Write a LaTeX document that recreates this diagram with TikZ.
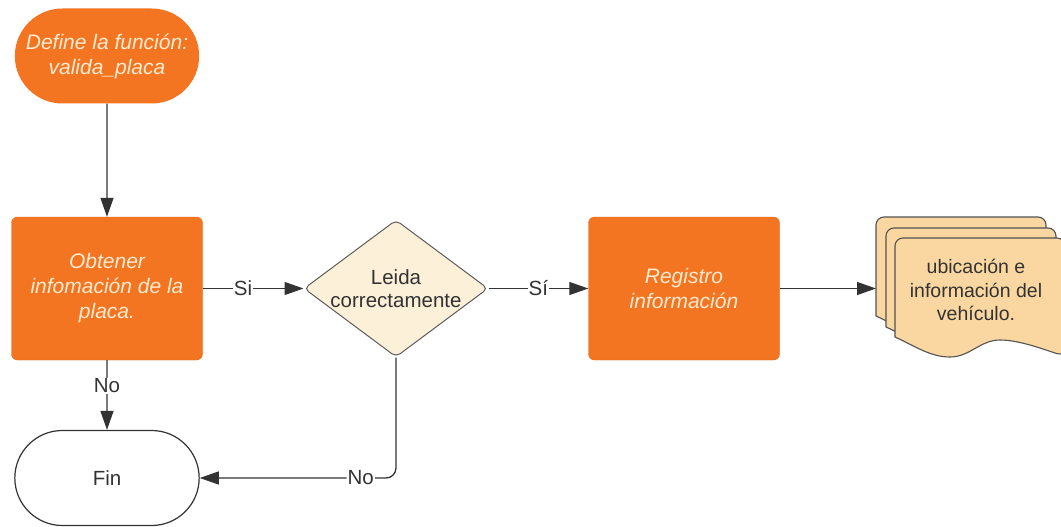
\documentclass[tikz,border=0pt]{standalone}
\usepackage{fontspec}
\setmainfont{Liberation Sans}
\usetikzlibrary{shapes.geometric,shapes.misc,arrows.meta}
\definecolor{orng}{HTML}{F47521}
\definecolor{crm}{HTML}{FFEBD2}
\definecolor{dmd}{HTML}{FCF0D9}
\definecolor{docf}{HTML}{FAD7A0}
\definecolor{ln}{HTML}{333333}
\tikzset{
  proc/.style={rectangle, rounded corners=6pt, fill=orng, draw=orng!90!black, line width=0.4pt,
    minimum width=191pt, minimum height=143pt, align=center, text=crm,
    font=\fontsize{21}{25}\selectfont\itshape},
  term/.style={rounded rectangle, minimum width=191pt, minimum height=95pt, align=center},
  dec/.style={diamond, aspect=1.34, inner sep=-6pt, minimum width=184pt, minimum height=137pt,
    rounded corners=5pt, fill=dmd, draw=ln!80, line width=1pt, align=center, text=ln,
    font=\fontsize{20.5}{23.5}\selectfont},
  arr/.style={draw=ln, line width=1.3pt, -{Triangle[length=19pt,width=13pt]}},
  conn/.style={draw=ln, line width=1.3pt},
  lbl/.style={fill=white, inner sep=1pt, text=ln, font=\fontsize{20.5}{24}\selectfont},
  docst/.style={fill=docf, draw=ln!85, line width=1.1pt},
  docshape/.pic={
    \path[docst] (0,99) [rounded corners=8pt] -- (0,0) -- (170,0) -- (170,118) [sharp corners]
      .. controls (150,112) and (125,102) .. (105,102)
      .. controls (85,102) and (75,119) .. (55,119)
      .. controls (35,119) and (20,108) .. (0,99) -- cycle;
  }
}
\begin{document}
\begin{tikzpicture}[x=1pt,y=-1pt]
\useasboundingbox[fill=white] (0,0) rectangle (1061,527);
% nodes
\node[term, fill=orng, text=crm, font=\fontsize{21}{25}\selectfont\itshape] (start) at (107,56)
  {Define la función:\\valida\_placa};
\node[proc] (obt) at (107,288.5) {Obtener\\infomación de la\\placa.};
\node[dec] (dia) at (396,288.5) {Leida\\correctamente};
\node[proc] (reg) at (684,288.5) {Registro\\información};
\node[term, draw=ln, fill=white, line width=1.2pt, text=ln, font=\fontsize{20.5}{24}\selectfont]
  (fin) at (107,478) {Fin};
% document stack
\pic at (876,217) {docshape};
\pic at (886,228) {docshape};
\pic at (895,238) {docshape};
\node[align=center, text=ln, font=\fontsize{19.5}{23.5}\selectfont] (doc) at (976,290)
  {ubicación e\\información del\\vehículo.};
\coordinate (docin) at (876,288.5);
% connectors
\draw[arr] (start) -- (obt);
\draw[arr] (obt) -- node[lbl, pos=0.4] {Si} (dia);
\draw[arr] (dia) -- node[lbl, pos=0.5] {Sí} (reg);
\draw[arr] (reg) -- (docin);
\draw[arr] (obt) -- node[lbl, pos=0.37] {No} (fin);
\draw[arr, rounded corners=10pt] (dia.south) |- node[lbl, pos=0.59] {No} (fin.east);
\end{tikzpicture}
\end{document}
